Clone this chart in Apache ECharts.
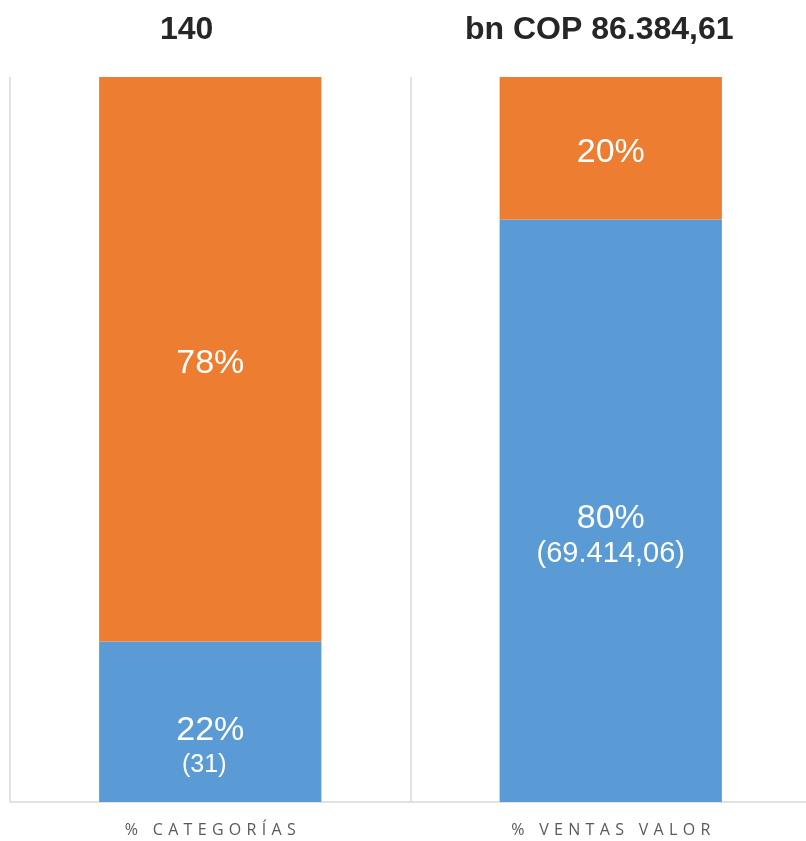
<!DOCTYPE html>
<html>
<head>
<meta charset="utf-8">
<script src="https://cdn.jsdelivr.net/npm/echarts@6/dist/echarts.min.js"></script>
<style>
  html, body { margin: 0; padding: 0; background: #ffffff; }
  #chart { width: 806px; height: 841px; }
</style>
</head>
<body>
<div id="chart"></div>
<script>
// categorias
const categories = ["% CATEGORÍAS", "% VENTAS VALOR"];
// titulos encima de cada barra
const topTitles = ["140", "bn COP 86.384,61"];
// participacion en % (azul abajo, naranja arriba)
const bluePct = [22.14, 80.35];
const orangePct = [77.86, 19.65];
// etiquetas que se muestran
const blueLabels = ["22%", "80%"];
const blueSubLabels = ["(31)", "(69.414,06)"];
const orangeLabels = ["78%", "20%"];

// letras separadas como en el original
function spaced(s) {
  return s.split("").join("\u2009\u2009");
}

let myChart = echarts.init(document.getElementById("chart"));
myChart.setOption({
  animation: false,
  graphic: [
    {
      type: "text",
      left: 160,
      top: 14,
      style: {
        text: topTitles[0],
        font: "bold 32px 'Liberation Sans', Arial, sans-serif",
        fill: "#262626",
      },
    },
    {
      type: "text",
      left: 465,
      top: 14,
      style: {
        text: topTitles[1],
        font: "bold 32px 'Liberation Sans', Arial, sans-serif",
        fill: "#262626",
      },
    },
  ],
  grid: {
    left: 10,
    top: 77,
    width: 801,
    bottom: 39,
    outerBoundsMode: "none",
  },
  xAxis: {
    type: "category",
    data: categories,
    axisTick: { show: false },
    axisLine: { show: true, lineStyle: { color: "#d9d9d9", width: 1.5 } },
    splitLine: { show: true, lineStyle: { color: "#d9d9d9", width: 1.5 } },
    axisLabel: {
      margin: 20,
      color: "#595959",
      fontSize: 16,
      fontFamily: "'Open Sans', sans-serif",
      formatter: function (v) {
        return spaced(v);
      },
    },
  },
  yAxis: {
    type: "value",
    min: 0,
    max: 100,
    show: false,
    splitLine: { show: false },
  },
  series: [
    {
      name: "base",
      type: "bar",
      stack: "total",
      barWidth: "55.5%",
      data: bluePct,
      itemStyle: { color: "#5b9bd5" },
      label: {
        show: true,
        position: "inside",
        offset: [0, 24],
        formatter: function (p) {
          let sub = p.dataIndex === 0 ? "{b|" : "{c|";
          return "{a|" + blueLabels[p.dataIndex] + "}\n" + sub + blueSubLabels[p.dataIndex] + "}";
        },
        rich: {
          a: {
            color: "#ffffff",
            fontSize: 34,
            fontFamily: "'Liberation Sans', Arial, sans-serif",
            lineHeight: 38,
          },
          b: {
            color: "#ffffff",
            fontSize: 25,
            fontFamily: "'Liberation Sans', Arial, sans-serif",
            lineHeight: 30,
            padding: [0, 12, 0, 0],
          },
          c: {
            color: "#ffffff",
            fontSize: 29,
            fontFamily: "'Liberation Sans', Arial, sans-serif",
            lineHeight: 32,
          },
        },
      },
    },
    {
      name: "resto",
      type: "bar",
      stack: "total",
      barWidth: "55.5%",
      data: orangePct,
      itemStyle: { color: "#ed7d31" },
      label: {
        show: true,
        position: "inside",
        offset: [0, 4],
        color: "#ffffff",
        fontSize: 34,
        fontFamily: "'Liberation Sans', Arial, sans-serif",
        formatter: function (p) {
          return orangeLabels[p.dataIndex];
        },
      },
    },
  ],
});
</script>
</body>
</html>
